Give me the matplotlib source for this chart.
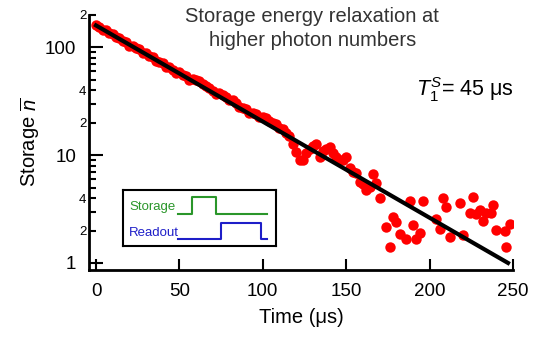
import matplotlib
matplotlib.use("Agg")
import matplotlib.pyplot as plt
from matplotlib.ticker import FixedLocator, FixedFormatter

plt.rcParams['font.family'] = ['Liberation Sans', 'DejaVu Sans']
plt.rcParams['mathtext.fontset'] = 'custom'
plt.rcParams['mathtext.rm'] = 'Liberation Sans'
plt.rcParams['mathtext.it'] = 'Liberation Sans:italic'

# measured storage photon number vs time (us)
time_us = [0, 2, 4, 6, 8, 10, 12, 14, 16, 18, 20, 22, 24, 26, 28, 30, 32, 34, 36, 38,
           40, 42, 44, 46, 48, 50, 52, 54, 56, 58, 60, 62, 64, 66, 68, 70, 72, 74, 76, 78,
           80, 82, 84, 86, 88, 90, 92, 94, 96, 98, 100, 102, 104, 106, 108, 110, 112, 114,
           116, 118, 120, 122, 124, 126, 128, 130, 132, 134, 136, 138, 140, 142, 144, 146,
           148, 150, 152, 154, 156, 158, 160, 162, 164, 166, 168, 170,
           174, 176, 178, 180, 182, 186, 188, 190, 192, 194, 196, 204, 206, 208, 210, 212,
           218, 220, 224, 226, 228, 230, 232, 234, 237, 238, 240, 245, 246, 248]
n_storage = [160, 155, 146, 145, 136, 132, 124, 123, 115, 112, 104, 104, 98, 96, 89, 88,
             83, 81, 75, 74, 72, 66, 65.5, 62, 58, 58.6, 55, 54, 49.4, 51, 50, 48.5, 46,
             44.2, 41.9, 39.7, 37.3, 37.5, 36.4, 34.5, 32.4, 32.5, 30.5, 28, 27.5, 27, 24.7,
             24.8, 24.1, 22.4, 22.5, 22.1, 20.7, 19.9, 19.5, 17.9, 17.6, 16.1, 15.1, 12.6,
             10.8, 9.1, 9.1, 10.4, 11.5, 12.1, 12.6, 9.6, 11.0, 11.3, 11.8, 10.4, 9.7, 9.0,
             9.0, 9.6, 7.55, 7.0, 6.85, 5.67, 5.45, 4.8, 5.1, 6.67, 5.54, 4.0,
             2.17, 1.42, 2.65, 2.4, 1.86, 1.68, 3.78, 2.25, 1.68, 1.91, 3.72, 2.57, 2.08,
             3.97, 3.32, 1.75, 3.62, 1.83, 2.89, 4.1, 2.84, 3.1, 2.46, 2.92, 2.89, 3.42,
             2.02, 1.98, 1.40, 2.30]

# exponential fit (straight on log axis), end points
fit_t = [0, 247]
fit_n = [160, 1.0]

y_major = [1, 10, 100]
y_minor = [2, 3, 4, 5, 6, 7, 8, 9, 20, 30, 40, 50, 60, 70, 80, 90, 200]
y_minor_labels = ['2', '', '4', '', '', '', '', '', '2', '', '4', '', '', '', '', '', '2']
x_ticks = [0, 50, 100, 150, 200, 250]

# pulse sequence sketch for the inset
pulse_u = [0.36, 0.45, 0.45, 0.61, 0.61, 0.94]
storage_v = [0.57, 0.57, 0.875, 0.875, 0.57, 0.57]
readout_u = [0.36, 0.64, 0.64, 0.90, 0.90, 0.94]
readout_v = [0.12, 0.12, 0.405, 0.405, 0.12, 0.12]

green = '#2a962a'
blue = '#1e1ec8'

fig = plt.figure(figsize=(5.45, 3.39), dpi=100)
ax = fig.add_axes([0.1633, 0.2035, 0.778, 0.7523])

ax.plot(time_us, n_storage, 'o', color='#ff0000', markersize=7.5, markeredgewidth=0)
ax.plot(fit_t, fit_n, '-', color='black', linewidth=3)

ax.set_yscale('log')
ax.set_xlim(-4.2, 250)
ax.set_ylim(0.86, 200)

ax.set_xticks(x_ticks)
ax.set_xticklabels([str(x) for x in x_ticks])
ax.yaxis.set_major_locator(FixedLocator(y_major))
ax.yaxis.set_major_formatter(FixedFormatter(['1', '10', '100']))
ax.yaxis.set_minor_locator(FixedLocator(y_minor))
ax.yaxis.set_minor_formatter(FixedFormatter(y_minor_labels))

ax.tick_params(axis='x', which='major', direction='in', length=8, width=1.5,
               labelsize=13.5, pad=9)
ax.tick_params(axis='y', which='major', direction='in', length=10, width=1.5,
               labelsize=13.5, pad=9)
ax.tick_params(axis='y', which='minor', direction='in', length=5, width=1.5,
               labelsize=9.5, pad=2)

for s in ['top', 'right']:
    ax.spines[s].set_visible(False)
for s in ['left', 'bottom']:
    ax.spines[s].set_linewidth(2)

ax.set_xlabel('Time (μs)', fontsize=14.5, labelpad=6)
ax.set_ylabel(r'Storage $\overline{n}$', fontsize=14.5, labelpad=2)

fig.text(0.573, 0.916, 'Storage energy relaxation at\nhigher photon numbers',
         ha='center', va='center', fontsize=14.5, color='#333333', linespacing=1.3)
fig.text(0.764, 0.737, r'$T_1^S$= 45 μs', ha='left', va='center', fontsize=15.5)

# inset with pulse sequence
ins = fig.add_axes([0.2257, 0.2743, 0.2807, 0.165])
ins.set_xlim(0, 1)
ins.set_ylim(0, 1)
ins.set_xticks([])
ins.set_yticks([])
for s in ins.spines.values():
    s.set_linewidth(1.5)
ins.plot(pulse_u, storage_v, color=green, linewidth=1.5)
ins.plot(readout_u, readout_v, color=blue, linewidth=1.5)
ins.text(0.04, 0.70, 'Storage', color=green, fontsize=9.5, va='center', ha='left')
ins.text(0.04, 0.23, 'Readout', color=blue, fontsize=9.5, va='center', ha='left')

fig.savefig('out.png', dpi=100)
